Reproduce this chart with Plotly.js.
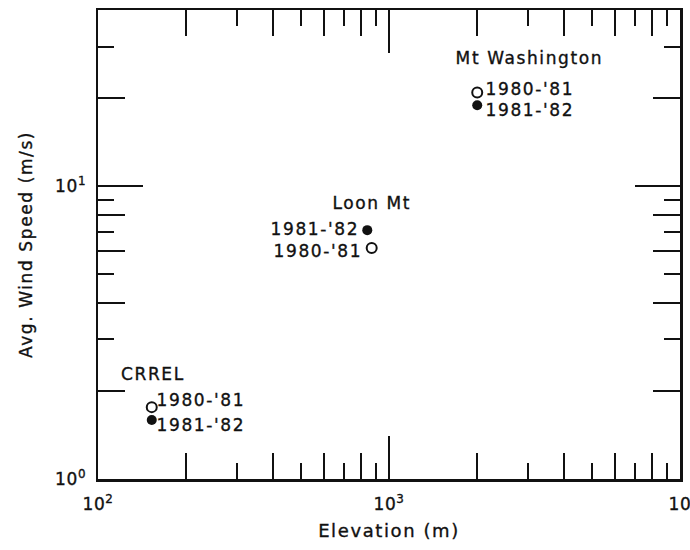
<!DOCTYPE html>
<html>
<head>
<meta charset="utf-8">
<script src="https://cdn.plot.ly/plotly-3.0.1.min.js"></script>
<style>
html,body{margin:0;padding:0;background:#fff;}
#chart text{letter-spacing:1.6px;stroke:#111;stroke-width:0.35px;}
#chart .xtick text, #chart .ytick text{letter-spacing:0.6px;}
</style>
</head>
<body>
<div id="chart" style="width:690px;height:550px;"></div>
<script>
// Data
const sites = ["CRREL", "Loon Mt", "Mt Washington"];
const seasonA = "1980-'81";   // open circles
const seasonB = "1981-'82";   // filled circles
const elevA = [153, 872, 2010];
const speedA = [1.76, 6.15, 20.9];
const elevB = [153, 842, 2010];
const speedB = [1.59, 7.08, 18.9];

// Tick sets
const xDecades = [100, 1000, 10000];
const xDecadeText = ["10<sup>2</sup>", "10<sup>3</sup>", "10"];
const xEven = [200, 400, 600, 800, 2000, 4000, 6000, 8000];
const xOdd = [300, 500, 700, 900, 3000, 5000, 7000, 9000];
const yDecades = [1, 10];
const yDecadeText = ["10<sup>0</sup>", "10<sup>1</sup>"];
const yEven = [2, 4, 6, 8, 20];
const yOdd = [3, 5, 7, 9, 30];

const font = "DejaVu Sans, sans-serif";
const ink = "#111";

const traces = [
  {x: elevA, y: speedA, mode: "markers", name: seasonA,
   marker: {symbol: "circle-open", size: 10, color: ink, line: {width: 2, color: ink}}},
  {x: elevB, y: speedB, mode: "markers", name: seasonB,
   marker: {symbol: "circle", size: 10, color: ink}},
  {x: [], y: [], xaxis: "x2", yaxis: "y2", showlegend: false, hoverinfo: "skip"}
];

const annFont = {family: font, size: 17, color: ink};
function ann(x, y, text, xanchor, xshift, yshift) {
  return {x: Math.log10(x), y: Math.log10(y), xref: "x", yref: "y", text: text,
          showarrow: false, xanchor: xanchor, yanchor: "middle",
          xshift: xshift, yshift: yshift, font: annFont};
}
const annotations = [
  // CRREL
  ann(elevA[0], speedA[0], sites[0], "center", 1, 33),
  ann(elevA[0], speedA[0], seasonA, "left", 9, 7),
  ann(elevB[0], speedB[0], seasonB, "left", 9, -5),
  // Loon Mt
  ann(elevB[1], speedB[1], sites[1], "center", 5, 27),
  ann(elevB[1], speedB[1], seasonB, "right", -12, 1),
  ann(elevA[1], speedA[1], seasonA, "right", -14, -3),
  // Mt Washington
  ann(elevA[2], speedA[2], sites[2], "center", 52, 35),
  ann(elevA[2], speedA[2], seasonA, "left", 13, 4),
  ann(elevB[2], speedB[2], seasonB, "left", 13, -5)
];

const axisCommon = {type: "log", showgrid: false, zeroline: false, color: ink,
                    tickcolor: ink, tickwidth: 2, ticks: "inside"};

const layout = {
  width: 690, height: 550,
  margin: {l: 98, r: 10, t: 10, b: 71},
  paper_bgcolor: "#fff", plot_bgcolor: "#fff",
  showlegend: false,
  font: {family: font, color: ink, size: 16},
  xaxis: Object.assign({}, axisCommon, {
    range: [2, 4], tickmode: "array", tickvals: xDecades, ticktext: xDecadeText,
    ticklen: 43, showline: true, linewidth: 2.5, linecolor: ink, mirror: "ticks",
    tickfont: {family: font, size: 17, color: ink},
    ticklabelstandoff: 8, ticklabeloverflow: "allow",
    minor: {tickmode: "array", tickvals: xEven, ticks: "inside", ticklen: 26,
            tickwidth: 2, tickcolor: ink, showgrid: false},
    title: {text: "Elevation (m)", font: {family: font, size: 18, color: ink}, standoff: 12}
  }),
  yaxis: Object.assign({}, axisCommon, {
    range: [0, Math.log10(40)], tickmode: "array", tickvals: yDecades, ticktext: yDecadeText,
    ticklen: 45, showline: true, linewidth: 2.5, linecolor: ink, mirror: "ticks",
    tickfont: {family: font, size: 17, color: ink},
    ticklabelstandoff: 6,
    minor: {tickmode: "array", tickvals: yEven, ticks: "inside", ticklen: 27,
            tickwidth: 2, tickcolor: ink, showgrid: false},
    title: {text: "Avg. Wind Speed (m/s)", font: {family: font, size: 17, color: ink}, standoff: 20}
  }),
  xaxis2: Object.assign({}, axisCommon, {
    overlaying: "x", anchor: "y", side: "bottom", range: [2, 4],
    tickmode: "array", tickvals: xOdd, ticklen: 16, showticklabels: false,
    showline: false, mirror: "ticks"
  }),
  yaxis2: Object.assign({}, axisCommon, {
    overlaying: "y", anchor: "x", side: "left", range: [0, Math.log10(40)],
    tickmode: "array", tickvals: yOdd, ticklen: 16, showticklabels: false,
    showline: false, mirror: "ticks"
  }),
  annotations: annotations
};

Plotly.newPlot("chart", traces, layout, {displayModeBar: false, staticPlot: true});
</script>
</body>
</html>
